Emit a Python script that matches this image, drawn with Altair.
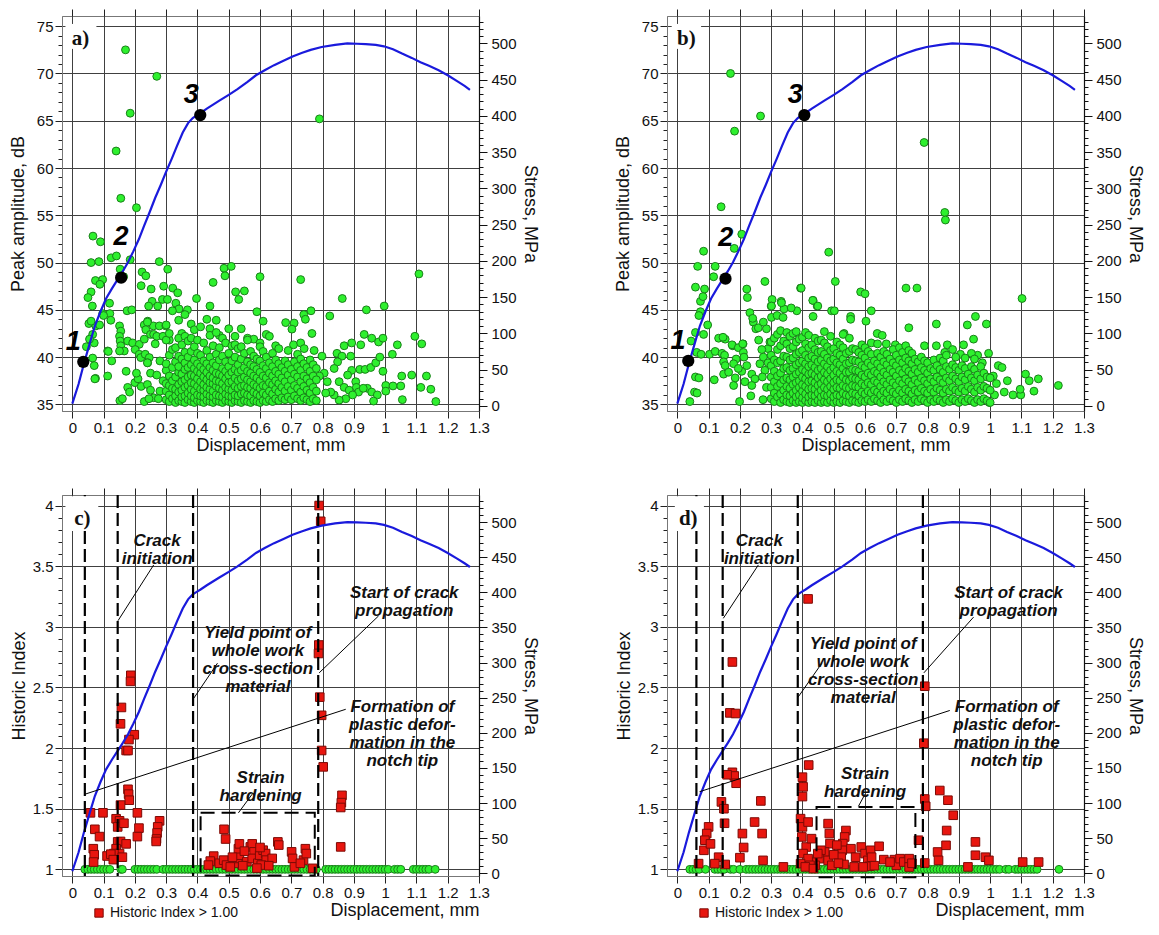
import altair as alt
import pandas as pd

FONT = "Liberation Sans"
GRID = "#404040"
GREEN_FILL = "#2ef02e"
GREEN_STROKE = "#1a801a"
RED_FILL = "#e8160f"
RED_STROKE = "#7d0a05"
BLUE = "#1a1adc"

# ---------------- stress - displacement curve (same test in all panels) ----------------
disp_curve = [0, 0.02, 0.037, 0.055, 0.072, 0.09, 0.108, 0.127, 0.146, 0.162, 0.178, 0.195,
              0.213, 0.23, 0.248, 0.265, 0.283, 0.3, 0.318, 0.335, 0.353, 0.37, 0.385, 0.395,
              0.41, 0.43, 0.47, 0.5, 0.528, 0.56, 0.587, 0.615, 0.645, 0.675, 0.704, 0.735,
              0.762, 0.797, 0.84, 0.879, 0.91, 0.938, 0.97, 0.996, 1.025, 1.054, 1.085, 1.113,
              1.14, 1.171, 1.2, 1.23, 1.255, 1.271]
stress_curve = [3, 30, 58, 85, 110, 130, 148, 162, 175, 186, 198, 213, 230, 249, 268, 287,
                305, 323, 341, 359, 377, 390, 397, 400, 404, 410, 421, 429, 437, 447, 456, 463,
                470, 476, 482, 487, 491, 495, 498, 500, 499.5, 499, 498, 496, 492, 486, 480,
                474, 469, 463, 456, 448, 441, 436]

# ---------------- panel a : peak amplitude (dB) ----------------
a_pts = [(0.17, 72.5), (0.27, 69.7), (0.185, 65.8), (0.79, 65.2), (0.14, 61.8), (0.155, 56.8),
         (0.205, 55.8), (0.066, 52.8), (0.09, 52.2), (0.124, 50.5), (0.141, 50.7), (0.185, 50.3),
         (0.06, 50.0), (0.085, 50.1), (0.074, 48.1), (0.097, 48.2), (0.088, 47.7), (0.153, 49.3),
         (0.164, 48.5), (0.06, 46.9), (0.05, 46.3), (0.064, 45.4), (0.119, 45.7), (0.12, 44.6),
         (0.123, 43.9), (0.097, 44.6), (0.053, 43.55), (0.075, 43.3), (0.07, 41.5), (0.065, 42.4),
         (0.087, 43.4), (0.113, 40.65), (0.126, 39.6), (0.113, 38.0), (0.074, 37.75),
         (0.151, 43.3), (0.155, 42.75), (0.151, 42.2), (0.153, 41.7), (0.155, 41.2), (0.166, 40.65),
         (0.151, 40.65), (0.172, 38.5), (0.177, 36.8), (0.183, 36.3), (0.152, 35.4), (0.16, 35.6),
         (0.177, 41.7), (0.193, 41.5), (0.214, 41.35), (0.201, 40.8), (0.214, 40.3), (0.219, 39.95),
         (0.233, 40.3), (0.246, 39.95), (0.241, 39.4), (0.223, 49.0), (0.235, 48.6), (0.22, 47.55),
         (0.252, 47.2), (0.278, 50.1), (0.305, 49.3), (0.292, 47.5), (0.321, 47.3), (0.337, 46.8),
         (0.288, 46.1), (0.304, 46.1), (0.255, 45.9), (0.273, 45.4), (0.244, 45.4), (0.241, 43.8),
         (0.259, 43.3), (0.278, 43.3), (0.299, 43.3), (0.331, 45.7), (0.341, 45.1), (0.368, 45.0),
         (0.397, 46.2), (0.44, 45.4), (0.45, 47.9), (0.485, 49.4), (0.508, 49.6), (0.488, 48.6),
         (0.522, 46.9), (0.532, 46.1), (0.55, 47.0), (0.045, 41.1), (0.055, 41.9), (0.06, 43.8),
         (0.065, 39.9), (0.07, 39.1), (0.072, 37.7), (0.1, 44.4), (0.115, 40.6), (0.175, 44.9),
         (0.19, 45.0), (0.2, 37.3), (0.21, 37.7), (0.205, 38.3), (0.22, 36.9), (0.23, 43.4),
         (0.24, 43.7), (0.235, 42.9), (0.23, 41.9), (0.25, 42.4), (0.26, 42.4), (0.27, 42.2),
         (0.265, 41.4), (0.24, 39.4), (0.25, 38.3), (0.24, 37.1), (0.25, 36.5), (0.26, 35.7),
         (0.23, 35.3), (0.245, 35.6), (0.27, 38.1), (0.28, 39.6), (0.29, 42.2), (0.3, 43.4),
         (0.31, 41.8), (0.32, 44.9), (0.34, 43.9), (0.35, 42.5), (0.29, 37.5), (0.28, 36.4),
         (0.275, 35.6), (0.36, 44.5), (0.38, 43.5), (0.39, 42.9), (0.41, 43.2), (0.43, 44.0),
         (0.44, 43.0), (0.46, 43.9), (0.47, 42.3), (0.5, 43.0), (0.52, 42.2), (0.54, 43.0),
         (0.56, 42.0), (0.58, 41.9), (0.6, 41.5), (0.62, 42.4), (0.59, 44.8), (0.6, 48.5),
         (0.61, 43.8), (0.63, 42.2), (0.65, 41.2), (0.73, 48.2), (0.74, 44.5), (0.745, 44.0),
         (0.763, 44.9), (0.823, 44.35), (0.863, 46.2), (0.94, 45.0), (0.997, 45.4), (1.108, 48.8),
         (0.682, 43.65), (0.709, 43.6), (0.702, 42.96), (0.766, 42.5), (0.933, 42.4), (0.957, 42.0),
         (0.979, 41.6), (0.993, 42.0), (1.095, 42.2), (1.117, 41.4), (0.707, 41.3), (0.73, 41.5),
         (0.741, 40.9), (0.773, 40.7), (0.798, 40.1), (0.869, 41.2), (0.893, 41.5), (0.922, 41.3),
         (0.846, 40.4), (0.862, 40.1), (0.848, 39.5), (0.837, 38.8), (0.89, 40.1), (0.893, 38.6),
         (0.88, 38.1), (0.919, 38.7), (0.936, 38.7), (0.954, 38.9), (0.97, 39.4), (0.983, 40.0),
         (1.039, 41.3), (1.023, 40.3), (0.993, 38.5), (1.053, 38.0), (1.085, 38.1), (1.132, 38.0),
         (1.002, 37.0), (1.025, 36.95), (1.05, 36.95), (1.114, 36.8), (1.146, 36.6), (1.055, 35.5),
         (1.162, 35.3), (0.943, 36.7), (0.957, 36.3), (0.975, 36.0), (0.963, 35.35), (1.002, 36.4),
         (0.906, 37.4), (0.908, 36.8), (0.915, 36.3), (0.93, 36.7), (0.853, 37.4), (0.869, 36.8),
         (0.885, 36.5), (0.896, 36.0), (0.874, 35.6), (0.853, 35.45), (0.837, 36.0), (0.826, 36.3),
         (0.815, 37.4), (0.805, 38.3), (0.79, 38.0), (0.81, 36.2)]

a_cols = {
    0.300: [35.5, 36.4, 37.2, 38.6, 39.3, 41.8],
    0.310: [35.3, 36.0, 37.0, 38.0, 40.2, 42.5],
    0.320: [35.6, 36.7, 37.5, 38.9, 40.8],
    0.330: [35.2, 35.9, 36.6, 37.9, 39.5, 41.0],
    0.340: [35.4, 36.3, 37.1, 38.4, 39.0, 40.1, 42.0],
    0.350: [35.3, 35.8, 36.5, 37.4, 38.2, 39.8, 41.3],
    0.360: [35.2, 35.9, 36.8, 37.6, 38.7, 39.4, 40.5, 42.2],
    0.370: [35.5, 36.2, 37.0, 37.9, 38.9, 40.0, 41.7],
    0.380: [35.3, 35.9, 36.6, 37.3, 38.1, 39.2, 40.6, 42.0],
    0.390: [35.2, 35.7, 36.4, 37.2, 38.0, 38.8, 39.7, 41.1],
    0.400: [35.4, 36.0, 36.9, 37.7, 38.5, 39.3, 40.4, 41.8],
    0.410: [35.3, 35.9, 36.6, 37.4, 38.3, 39.0, 40.2],
    0.420: [35.2, 35.8, 36.5, 37.1, 37.9, 38.7, 39.6, 41.5],
    0.430: [35.4, 36.1, 36.8, 37.6, 38.4, 39.3, 40.7],
    0.440: [35.3, 35.9, 36.6, 37.3, 38.0, 38.9, 40.0, 42.3],
    0.450: [35.2, 35.8, 36.4, 37.2, 37.8, 38.6, 39.4, 41.2],
    0.460: [35.4, 36.0, 36.9, 37.5, 38.3, 39.1, 40.3, 42.6],
    0.470: [35.3, 35.9, 36.7, 37.4, 38.2, 39.7, 41.0],
    0.480: [35.2, 35.8, 36.5, 37.2, 38.0, 38.8, 40.1, 42.0],
    0.490: [35.4, 36.1, 36.8, 37.7, 38.5, 39.5, 41.5],
    0.500: [35.3, 35.9, 36.6, 37.3, 38.1, 39.0, 40.4],
    0.510: [35.2, 35.8, 36.5, 37.4, 38.4, 39.6, 41.2],
    0.520: [35.4, 36.0, 36.9, 37.8, 38.7, 40.0, 41.3],
    0.530: [35.3, 35.9, 36.7, 37.5, 38.4, 39.2, 40.9],
    0.540: [35.2, 36.1, 36.9, 37.7, 38.6, 39.8, 41.1],
    0.550: [35.4, 36.2, 37.0, 37.9, 38.9, 40.4],
    0.560: [35.3, 36.0, 36.8, 37.6, 38.5, 39.5, 41.8],
    0.570: [35.2, 35.9, 36.7, 37.4, 38.3, 39.2, 40.6],
    0.580: [35.4, 36.3, 37.1, 38.0, 39.0, 40.1],
    0.590: [35.3, 36.1, 36.9, 37.8, 38.7, 39.8],
    0.600: [35.2, 35.9, 36.7, 37.5, 38.4, 39.6, 41.1],
    0.610: [35.4, 36.2, 37.0, 38.0, 39.1, 40.6],
    0.620: [35.3, 36.0, 36.9, 37.8, 38.8, 40.0],
    0.630: [35.5, 36.4, 37.3, 38.3, 39.4],
    0.640: [35.3, 36.1, 37.1, 38.0, 39.0, 40.4],
    0.650: [35.6, 36.6, 37.5, 38.5, 39.7],
    0.660: [35.4, 36.3, 37.2, 38.2, 39.3, 40.9],
    0.670: [35.7, 36.8, 37.8, 38.9],
    0.680: [35.5, 36.4, 37.4, 38.5, 39.6],
    0.690: [35.8, 36.9, 38.1, 39.2, 40.7],
    0.700: [35.5, 36.5, 37.6, 38.7],
    0.710: [35.9, 37.0, 38.2, 39.5],
    0.720: [35.6, 36.7, 37.9, 39.0, 40.3],
    0.730: [35.4, 36.3, 37.4, 38.6, 39.8],
    0.740: [35.7, 36.9, 38.0, 39.3],
    0.750: [35.5, 36.5, 37.7, 38.9],
    0.760: [35.3, 36.2, 37.3, 38.5, 39.7],
    0.770: [35.6, 36.8, 38.0, 39.2],
    0.780: [35.4, 36.4, 37.6, 38.8],
}

# ---------------- panel b : peak amplitude (dB) ----------------
b_pts = [(0.17, 70.0), (0.266, 65.5), (0.183, 63.9), (0.789, 62.7), (0.14, 55.9), (0.855, 55.3),
         (0.857, 54.5), (0.206, 53.0), (0.182, 51.5), (0.084, 51.2), (0.484, 51.1), (0.065, 49.6),
         (0.121, 49.6), (0.116, 48.5), (0.28, 48.0), (0.505, 48.0), (0.058, 47.4), (0.087, 47.2),
         (0.222, 47.2), (0.394, 47.3), (0.731, 47.3), (0.766, 47.3), (1.102, 46.2), (0.224, 46.3),
         (0.586, 46.9), (0.6, 46.7), (0.074, 45.9), (0.082, 46.4), (0.303, 46.1), (0.332, 45.9),
         (0.434, 46.0), (0.447, 45.4), (0.3, 45.4), (0.341, 45.1), (0.382, 44.9), (0.493, 44.9),
         (0.62, 44.9), (0.074, 44.8), (0.069, 44.4), (0.232, 44.7), (0.243, 43.7), (0.241, 44.1),
         (0.251, 43.0), (0.259, 43.1), (0.434, 44.3), (0.554, 44.3), (0.953, 44.3), (0.554, 44.0),
         (0.097, 43.4), (0.603, 43.8), (0.927, 43.4), (0.988, 43.5), (0.828, 43.5), (0.74, 43.1),
         (0.084, 42.4), (0.058, 42.6), (0.044, 41.7), (0.132, 42.0), (0.153, 41.9), (0.146, 42.1),
         (0.177, 41.2), (0.947, 41.9), (0.639, 42.5), (0.655, 42.3), (0.533, 42.5), (0.175, 41.3),
         (0.21, 41.4), (0.668, 41.4), (0.697, 41.3), (0.79, 41.2), (0.828, 41.2), (0.863, 41.3),
         (0.915, 41.3), (0.103, 40.3), (0.121, 40.6), (0.143, 40.4), (0.151, 40.2), (0.148, 39.5),
         (0.062, 40.5), (0.076, 40.3), (0.995, 40.4), (0.195, 41.0), (0.211, 40.5), (0.209, 41.4),
         (0.213, 40.0), (0.188, 39.8), (0.058, 37.9), (0.069, 37.8), (0.055, 36.3), (0.063, 36.2),
         (0.04, 35.3), (0.18, 37.0), (0.118, 37.6), (0.148, 38.2), (0.185, 37.8), (0.206, 38.5),
         (0.216, 37.4), (0.199, 35.3), (0.153, 39.1), (0.164, 38.4), (0.18, 39.3), (0.195, 38.8),
         (0.222, 39.1), (0.238, 38.2), (0.248, 37.7), (0.238, 37.0), (0.235, 35.9), (0.274, 35.5),
         (0.264, 39.3), (0.275, 40.0), (0.29, 40.9), (0.296, 41.6), (0.285, 43.0), (0.275, 43.7),
         (0.301, 44.2), (0.319, 44.4), (0.301, 45.4), (0.333, 45.75), (0.364, 45.2), (0.396, 47.3),
         (0.433, 46.0), (0.449, 45.4), (0.502, 44.9), (0.338, 44.2), (0.26, 41.8), (0.27, 40.8),
         (0.28, 38.6), (0.29, 39.4), (0.285, 36.8), (0.272, 37.9), (1.026, 39.1), (1.038, 38.9),
         (1.055, 37.5), (1.073, 36.0), (1.098, 36.0), (1.096, 36.6), (1.113, 38.2), (1.125, 37.5),
         (1.14, 36.4), (1.154, 37.7), (1.218, 37.0), (0.997, 35.2), (1.014, 36.0), (1.02, 37.2),
         (1.045, 36.3), (1.01, 38.0), (0.96, 40.2), (0.975, 39.4), (0.94, 40.4), (0.88, 40.8),
         (0.855, 40.5), (0.905, 40.3)]

b_cols = {
    0.30: [35.6, 36.8, 37.9, 39.1, 40.2, 41.6],
    0.31: [35.3, 36.2, 37.4, 38.5, 39.7, 42.0],
    0.32: [35.8, 36.9, 38.0, 39.4, 40.8, 42.4],
    0.33: [35.2, 36.1, 37.2, 38.3, 39.6, 41.2, 42.8],
    0.34: [35.5, 36.5, 37.6, 38.8, 40.1, 41.7],
    0.35: [35.3, 36.0, 36.9, 37.8, 38.9, 40.0, 41.4, 42.6],
    0.36: [35.2, 35.9, 36.7, 37.6, 38.6, 39.7, 40.9, 42.2],
    0.37: [35.4, 36.2, 37.1, 37.9, 38.8, 39.9, 41.1, 42.5],
    0.38: [35.2, 35.8, 36.5, 37.3, 38.2, 39.2, 40.3, 41.6, 42.7],
    0.39: [35.3, 36.0, 36.8, 37.5, 38.4, 39.4, 40.5, 41.9],
    0.40: [35.2, 35.7, 36.4, 37.1, 37.9, 38.7, 39.6, 40.7, 42.1],
    0.41: [35.4, 36.1, 36.9, 37.7, 38.5, 39.3, 40.2, 41.4, 42.6],
    0.42: [35.2, 35.8, 36.6, 37.4, 38.2, 39.0, 39.9, 41.0, 42.3],
    0.43: [35.3, 36.0, 36.7, 37.5, 38.3, 39.2, 40.1, 41.3],
    0.44: [35.2, 35.9, 36.6, 37.3, 38.1, 38.9, 39.8, 40.8, 42.0],
    0.45: [35.4, 36.2, 37.0, 37.8, 38.6, 39.5, 40.5, 41.7],
    0.46: [35.2, 35.8, 36.5, 37.2, 38.0, 38.8, 39.7, 40.6, 41.8],
    0.47: [35.3, 36.0, 36.8, 37.6, 38.4, 39.3, 40.3, 41.5, 42.7],
    0.48: [35.2, 35.9, 36.6, 37.4, 38.2, 39.0, 39.9, 41.1],
    0.49: [35.4, 36.1, 36.9, 37.7, 38.6, 39.6, 40.7, 42.2],
    0.50: [35.2, 35.8, 36.6, 37.3, 38.1, 38.9, 39.8, 40.9],
    0.51: [35.3, 36.0, 36.8, 37.6, 38.5, 39.4, 40.4, 41.6],
    0.52: [35.2, 35.9, 36.7, 37.5, 38.3, 39.2, 40.2, 41.3],
    0.53: [35.4, 36.2, 37.0, 37.9, 38.8, 39.8, 41.0, 42.4],
    0.54: [35.3, 36.0, 36.8, 37.6, 38.4, 39.3, 40.4],
    0.55: [35.2, 35.9, 36.7, 37.5, 38.4, 39.4, 40.6, 42.0],
    0.56: [35.4, 36.2, 37.0, 37.8, 38.7, 39.7, 40.9],
    0.57: [35.3, 36.1, 36.9, 37.7, 38.6, 39.6, 40.8],
    0.58: [35.2, 35.9, 36.8, 37.6, 38.5, 39.5, 40.5],
    0.59: [35.4, 36.3, 37.2, 38.1, 39.1, 40.2, 41.3],
    0.60: [35.3, 36.1, 37.0, 37.9, 38.9, 39.9, 41.0],
    0.61: [35.5, 36.4, 37.3, 38.3, 39.4, 40.6],
    0.62: [35.3, 36.2, 37.1, 38.1, 39.1, 40.3, 41.5],
    0.63: [35.6, 36.5, 37.5, 38.5, 39.6],
    0.64: [35.4, 36.3, 37.3, 38.3, 39.3, 40.4, 41.4],
    0.65: [35.2, 36.0, 36.9, 37.9, 38.9, 40.0],
    0.66: [35.5, 36.4, 37.4, 38.4, 39.5, 40.6],
    0.67: [35.3, 36.2, 37.1, 38.1, 39.2, 40.3],
    0.68: [35.6, 36.6, 37.6, 38.7, 39.8],
    0.69: [35.4, 36.3, 37.3, 38.4, 39.4, 40.8],
    0.70: [35.2, 36.1, 37.0, 38.0, 39.1, 40.2],
    0.71: [35.5, 36.5, 37.5, 38.6, 39.7, 41.0],
    0.72: [35.3, 36.2, 37.2, 38.3, 39.4, 40.5],
    0.73: [35.6, 36.6, 37.7, 38.8, 39.9, 41.2],
    0.74: [35.4, 36.4, 37.4, 38.5, 39.6, 40.7],
    0.75: [35.2, 36.1, 37.1, 38.2, 39.3, 40.4],
    0.76: [35.5, 36.5, 37.6, 38.7, 39.8],
    0.77: [35.3, 36.3, 37.3, 38.4, 39.5],
    0.78: [35.6, 36.7, 37.8, 38.9, 40.0],
    0.79: [35.4, 36.4, 37.5, 38.6, 39.6],
    0.80: [35.2, 36.2, 37.2, 38.3, 39.4],
    0.81: [35.5, 36.6, 37.7, 38.8],
    0.82: [35.3, 36.3, 37.4, 38.6, 39.7],
    0.83: [35.6, 36.7, 37.9, 39.1],
    0.84: [35.4, 36.5, 37.6, 38.7, 39.9],
    0.85: [35.2, 36.2, 37.3, 38.4, 39.6],
    0.86: [35.5, 36.6, 37.8, 39.0, 40.2],
    0.87: [35.3, 36.4, 37.5, 38.7],
    0.88: [35.6, 36.8, 38.0, 39.2],
    0.89: [35.4, 36.5, 37.7, 38.9, 40.0],
    0.90: [35.2, 36.3, 37.4, 38.6],
    0.91: [35.5, 36.7, 37.9, 39.1],
    0.92: [35.3, 36.4, 37.6, 38.8, 39.9],
    0.93: [35.6, 36.9, 38.2],
    0.94: [35.4, 36.6, 37.8, 39.0],
    0.95: [35.2, 36.3, 37.5, 38.7, 39.8],
    0.96: [35.5, 36.8, 38.1],
    0.97: [35.3, 36.5, 37.7, 39.0],
    0.98: [35.6, 36.9, 38.3],
    0.99: [35.4, 36.7, 37.9],
    1.00: [35.2, 36.5, 37.8],
}

# ---------------- panel c : historic index ----------------
c_green_x = [0.04, 0.05, 0.06, 0.07, 0.08, 0.09, 0.1, 0.11, 0.12, 0.155, 0.16, 0.2, 0.21, 0.22,
             0.23, 0.24, 0.25, 0.26, 0.27, 0.29, 0.3, 0.31, 0.32, 0.33, 0.34, 0.35, 0.36, 0.37,
             0.38, 0.39, 0.4, 0.41, 0.42, 0.43, 0.44, 0.45, 0.46, 0.47, 0.48, 0.49, 0.5, 0.51,
             0.52, 0.53, 0.54, 0.55, 0.56, 0.57, 0.58, 0.59, 0.6, 0.61, 0.62, 0.63, 0.64, 0.65,
             0.66, 0.67, 0.68, 0.69, 0.7, 0.71, 0.72, 0.73, 0.74, 0.75, 0.76, 0.77, 0.78, 0.81,
             0.82, 0.83, 0.84, 0.85, 0.86, 0.87, 0.88, 0.89, 0.9, 0.91, 0.92, 0.93, 0.94, 0.95,
             0.96, 0.97, 0.98, 0.99, 1.0, 1.01, 1.03, 1.04, 1.05, 1.09, 1.1, 1.11, 1.12, 1.13,
             1.14, 1.16]
c_red = [(0.789, 4.0), (0.794, 3.87), (0.788, 2.85), (0.787, 2.78), (0.791, 2.42), (0.797, 2.27),
         (0.797, 1.98), (0.802, 1.845), (0.862, 1.61), (0.86, 1.55), (0.858, 1.51), (0.858, 1.185),
         (0.187, 2.60), (0.186, 2.55), (0.157, 2.335), (0.154, 2.20), (0.198, 2.11), (0.181, 2.07),
         (0.172, 1.98), (0.178, 1.98), (0.178, 1.66), (0.18, 1.62), (0.182, 1.57), (0.154, 1.53),
         (0.058, 1.466), (0.098, 1.466), (0.14, 1.417), (0.151, 1.40), (0.145, 1.35), (0.208, 1.466),
         (0.213, 1.34), (0.208, 1.27), (0.072, 1.33), (0.087, 1.27), (0.279, 1.40), (0.273, 1.35),
         (0.271, 1.30), (0.269, 1.25), (0.268, 1.23), (0.145, 1.226), (0.154, 1.23), (0.172, 1.21),
         (0.14, 1.17), (0.151, 1.13), (0.133, 1.13), (0.067, 1.17), (0.07, 1.12), (0.068, 1.06),
         (0.111, 1.11), (0.123, 1.125), (0.131, 1.08), (0.165, 1.38), (0.16, 1.1), (0.485, 1.33),
         (0.49, 1.25), (0.452, 1.109), (0.441, 1.068), (0.435, 1.035), (0.47, 1.05), (0.484, 1.076),
         (0.493, 1.035), (0.517, 1.049), (0.528, 1.09), (0.534, 1.117), (0.531, 1.17),
         (0.534, 1.21), (0.558, 1.063), (0.569, 1.185), (0.575, 1.21), (0.581, 1.144), (0.575, 1.09),
         (0.593, 1.05), (0.599, 1.117), (0.61, 1.158), (0.618, 1.13), (0.62, 1.076), (0.604, 1.035),
         (0.639, 1.09), (0.657, 1.226), (0.66, 1.2), (0.701, 1.144), (0.704, 1.09), (0.71, 1.02),
         (0.739, 1.076), (0.745, 1.17), (0.748, 1.13), (0.729, 1.05), (0.768, 1.008), (0.628, 1.03),
         (0.505, 1.02), (0.545, 1.03), (0.59, 1.01), (0.55, 1.15), (0.6, 1.18), (0.512, 1.1)]

# ---------------- panel d : historic index ----------------
d_green_x = [0.04, 0.05, 0.06, 0.07, 0.09, 0.12, 0.13, 0.14, 0.15, 0.17, 0.18, 0.2, 0.22, 0.23,
             0.24, 0.25, 0.26, 0.27, 0.28, 0.29, 0.3, 0.31, 0.32, 0.33, 0.34, 0.35, 0.36, 0.37,
             0.38, 0.39, 0.4, 0.41, 0.42, 0.43, 0.44, 0.45, 0.46, 0.47, 0.48, 0.49, 0.5, 0.51,
             0.52, 0.53, 0.54, 0.55, 0.56, 0.57, 0.58, 0.59, 0.6, 0.61, 0.62, 0.63, 0.64, 0.65,
             0.66, 0.67, 0.68, 0.69, 0.7, 0.71, 0.72, 0.73, 0.74, 0.75, 0.76, 0.77, 0.78, 0.79,
             0.8, 0.81, 0.82, 0.83, 0.84, 0.85, 0.86, 0.87, 0.88, 0.89, 0.9, 0.91, 0.92, 0.93,
             0.94, 0.95, 0.96, 0.97, 0.98, 0.99, 1.0, 1.01, 1.02, 1.03, 1.05, 1.06, 1.08, 1.09,
             1.1, 1.11, 1.12, 1.13, 1.14, 1.15, 1.22]
d_red = [(0.418, 3.23), (0.176, 2.71), (0.168, 2.29), (0.186, 2.285), (0.791, 2.51), (0.788, 2.04),
         (0.42, 1.86), (0.176, 1.80), (0.182, 1.77), (0.188, 1.71), (0.159, 1.78), (0.4, 1.76),
         (0.402, 1.68), (0.4, 1.60), (0.791, 1.58), (0.794, 1.52), (0.839, 1.65), (0.865, 1.57),
         (0.882, 1.446), (0.267, 1.564), (0.141, 1.556), (0.149, 1.50), (0.151, 1.38), (0.247, 1.39),
         (0.208, 1.295), (0.212, 1.18), (0.2, 1.096), (0.271, 1.295), (0.274, 1.074), (0.1, 1.35),
         (0.094, 1.295), (0.088, 1.24), (0.085, 1.157), (0.106, 1.21), (0.132, 1.10), (0.12, 1.047),
         (0.068, 1.047), (0.153, 1.04), (0.339, 1.02), (0.482, 1.377), (0.486, 1.295), (0.488, 1.212),
         (0.471, 1.143), (0.482, 1.074), (0.494, 1.033), (0.539, 1.32), (0.535, 1.267), (0.529, 1.212),
         (0.527, 1.157), (0.524, 1.10), (0.533, 1.04), (0.459, 1.157), (0.453, 1.088), (0.441, 1.033),
         (0.429, 1.06), (0.555, 1.17), (0.565, 1.02), (0.588, 1.184), (0.6, 1.13), (0.609, 1.074),
         (0.618, 1.157), (0.621, 1.10), (0.645, 1.19), (0.614, 1.025), (0.594, 1.02), (0.694, 1.08),
         (0.7, 1.033), (0.712, 1.088), (0.724, 1.06), (0.741, 1.088), (0.741, 1.019), (0.771, 1.24),
         (0.832, 1.143), (0.835, 1.074), (0.859, 1.198), (0.861, 1.32), (0.953, 1.226), (0.953, 1.116),
         (0.985, 1.10), (0.996, 1.074), (0.929, 1.02), (1.104, 1.06), (1.155, 1.06), (0.791, 1.052),
         (0.394, 1.418), (0.4, 1.35), (0.398, 1.267), (0.412, 1.184), (0.402, 1.13), (0.418, 1.088),
         (0.424, 1.033), (0.394, 1.047), (0.409, 1.02), (0.435, 1.006), (0.449, 1.13), (0.429, 1.253),
         (0.418, 1.39), (0.51, 1.2), (0.5, 1.12), (0.515, 1.05), (0.57, 1.1), (0.66, 1.08),
         (0.68, 1.06), (0.63, 1.03), (0.75, 1.05)]

# ---------------- annotations ----------------
key_labels = ["1", "2", "3"]
a_key_x, a_key_y = [0.035, 0.156, 0.409], [39.5, 48.4, 65.6]
a_num_x, a_num_y = [0.003, 0.156, 0.38], [41.6, 52.7, 67.7]
b_key_x, b_key_y = [0.035, 0.154, 0.406], [39.6, 48.3, 65.6]
b_num_x, b_num_y = [0.002, 0.155, 0.377], [41.7, 52.6, 67.7]

ann_texts = ["Crack\ninitiation",
             "Yield point of\nwhole work\ncross-section\nmaterial",
             "Start of crack\npropagation",
             "Formation of\nplastic defor-\nmation in the\nnotch tip",
             "Strain\nhardening"]
c_ann_x, c_ann_y = [0.271, 0.593, 1.061, 1.055, 0.602], [3.71, 2.945, 3.28, 2.335, 1.751]
d_ann_x, d_ann_y = [0.262, 0.594, 1.059, 1.053, 0.6], [3.71, 2.86, 3.275, 2.335, 1.79]
c_leaders = [(0.26, 3.51, 0.146, 3.05), (0.464, 2.70, 0.388, 2.41), (0.979, 3.09, 0.789, 2.62),
             (0.874, 2.32, 0.041, 1.62), (0.575, 1.62, 0.531, 1.466)]
d_leaders = [(0.259, 3.51, 0.147, 3.07), (0.462, 2.70, 0.386, 2.42), (0.947, 3.08, 0.788, 2.62),
             (0.871, 2.31, 0.071, 1.64), (0.6, 1.62, 0.579, 1.52)]
c_vlines = [0.04, 0.145, 0.386, 0.786]
d_vlines = [0.061, 0.145, 0.385, 0.785]
c_hard_box = [0.41, 0.775, 0.95, 1.466]
d_hard_box = [0.445, 0.761, 0.935, 1.515]

panel_letters = ["a)", "b)", "c)", "d)"]
letter_x = [0.026, 0.029, 0.032, 0.035]
letter_y = [73.7, 73.7, 3.89, 3.89]
letter_box = [(-0.022, 0.077, 72.6, 75.24), (-0.018, 0.076, 72.6, 75.24),
              (-0.022, 0.083, 3.79, 4.076), (-0.008, 0.085, 3.79, 4.076)]

LEGEND_LABEL = "Historic Index > 1.00"

# ---------------- scales / axes ----------------
X_DOM = [-0.033, 1.3]
X_TICKS = [round(0.1 * i, 1) for i in range(14)]
DB_TICKS = list(range(35, 76))
HI_TICKS = [round(1 + 0.1 * i, 2) for i in range(31)]
S_TICKS = list(range(0, 531, 10))
DB_DOM = [34.3, 76.08]
HI_DOM = [0.945, 4.087]
S_DOM_AB = [-7.24, 537.8]
S_DOM_CD = [-3.8, 538.5]
W = 417
H_AB = 395
H_CD = 381
NUMFMT = "~r"


def xs(field, axis=None):
    return alt.X(f"{field}:Q", scale=alt.Scale(domain=X_DOM, nice=False, zero=False), axis=axis)


def ys(field, dom, axis=None):
    return alt.Y(f"{field}:Q", scale=alt.Scale(domain=dom, nice=False, zero=False), axis=axis)


def bottom_axis(anchor):
    return alt.Axis(title="Displacement, mm", orient="bottom", values=X_TICKS, format=NUMFMT,
                    grid=True, gridColor=GRID, gridWidth=1, tickSize=7, tickColor="#222",
                    domainColor="#777", labelPadding=2, titlePadding=1, titleAnchor=anchor,
                    labelFlush=False, labelOverlap=False)


def top_axis():
    return alt.Axis(orient="top", values=X_TICKS, labels=False, title=None, tickSize=7,
                    tickColor="#222", domain=False, grid=False)


def left_axis(title, ticks, test, tpad):
    return alt.Axis(title=title, orient="left", values=ticks, format=NUMFMT,
                    labelExpr=f"({test}) ? datum.label : ''", labelOverlap=False,
                    tickSize=7, tickColor="#222",
                    tickDash={"condition": {"test": test, "value": []}, "value": [4, 20]},
                    grid=True, gridColor=GRID, gridWidth=1,
                    gridOpacity={"condition": {"test": test, "value": 1}, "value": 0},
                    domainColor="#777", labelPadding=2, titlePadding=tpad)


def right_axis():
    test = "datum.value % 50 === 0"
    return alt.Axis(title="Stress, MPa", orient="right", values=S_TICKS, format=NUMFMT,
                    labelExpr=f"({test}) ? datum.label : ''", labelOverlap=False,
                    tickSize=8, tickColor="#111",
                    tickDash={"condition": {"test": test, "value": []}, "value": [4, 20]},
                    grid=False, domainColor="#111", domainWidth=1.2, labelPadding=4,
                    titlePadding=4)


curve_df = pd.DataFrame({"d": disp_curve, "s": stress_curve})


def stress_layer(sdom):
    return alt.Chart(curve_df).mark_line(color=BLUE, strokeWidth=2.2).encode(
        x=xs("d", top_axis()), y=ys("s", sdom, right_axis()))


def letter_layers(i, ydom):
    bx = letter_box[i]
    box_df = pd.DataFrame({"x": [bx[0]], "x2": [bx[1]], "y": [bx[2]], "y2": [bx[3]]})
    lab_df = pd.DataFrame({"x": [letter_x[i]], "y": [letter_y[i]], "t": [panel_letters[i]]})
    box = alt.Chart(box_df).mark_rect(fill="white", strokeOpacity=0).encode(
        x=xs("x"), x2="x2:Q", y=ys("y", ydom), y2="y2:Q")
    lab = alt.Chart(lab_df).mark_text(font="Liberation Serif", fontWeight="bold", fontSize=21,
                                      color="#111", align="center", baseline="middle").encode(
        x=xs("x"), y=ys("y", ydom), text="t:N")
    return box, lab


def amp_panel(i, pts, cols, kx, ky, nx, ny):
    px = [p[0] for p in pts] + [x for x, v in cols.items() for _ in v]
    py = [p[1] for p in pts] + [y for v in cols.values() for y in v]
    sc_df = pd.DataFrame({"x": px, "y": py})
    scatter = alt.Chart(sc_df).mark_circle(size=62, fill=GREEN_FILL, stroke=GREEN_STROKE,
                                           strokeWidth=1, opacity=1).encode(
        x=xs("x", bottom_axis("middle")),
        y=ys("y", DB_DOM, left_axis("Peak amplitude, dB", DB_TICKS,
                                   "datum.value % 5 === 0", 9)))
    box, lab = letter_layers(i, DB_DOM)
    key_df = pd.DataFrame({"x": kx, "y": ky})
    num_df = pd.DataFrame({"x": nx, "y": ny, "t": key_labels})
    dots = alt.Chart(key_df).mark_circle(size=150, color="black", opacity=1).encode(
        x=xs("x"), y=ys("y", DB_DOM))
    nums = alt.Chart(num_df).mark_text(font=FONT, fontSize=27, fontWeight="bold",
                                       fontStyle="italic", color="black",
                                       align="center", baseline="middle").encode(
        x=xs("x"), y=ys("y", DB_DOM), text="t:N")
    g2 = alt.layer(box, lab, dots, nums)
    return alt.layer(scatter, stress_layer(S_DOM_AB), g2).resolve_scale(
        y="independent").resolve_axis(x="independent", y="independent").properties(
        width=W, height=H_AB)


def hi_panel(i, green_x, red, vlines, hbox, leaders, ax, ay):
    baxis = bottom_axis("end")
    laxis = left_axis("Historic Index", HI_TICKS,
                      "datum.value * 2 === round(datum.value * 2)", 4)
    g_df = pd.DataFrame({"x": green_x, "y": [1.0] * len(green_x)})
    r_df = pd.DataFrame({"x": [p[0] for p in red], "y": [p[1] for p in red],
                         "lab": [LEGEND_LABEL] * len(red)})
    green = alt.Chart(g_df).mark_circle(size=62, fill=GREEN_FILL, stroke=GREEN_STROKE,
                                        strokeWidth=1, opacity=1).encode(
        x=xs("x", baxis), y=ys("y", HI_DOM, laxis))
    reds = alt.Chart(r_df).mark_square(size=74, stroke=RED_STROKE, strokeWidth=1,
                                       opacity=1).encode(
        x=xs("x", baxis), y=ys("y", HI_DOM, laxis),
        color=alt.Color("lab:N", scale=alt.Scale(domain=[LEGEND_LABEL], range=[RED_FILL]),
                        legend=alt.Legend(title=None, orient="none", legendX=30,
                                          legendY=H_CD + 30, symbolType="square",
                                          symbolSize=70, symbolStrokeColor=RED_STROKE,
                                          symbolStrokeWidth=1, labelFont=FONT,
                                          labelFontSize=14, labelColor="#111",
                                          padding=0)))
    g1 = alt.layer(green, reds)

    box, lab = letter_layers(i, HI_DOM)
    vl_df = pd.DataFrame({"x": vlines})
    vl = alt.Chart(vl_df).mark_rule(color="black", strokeWidth=2.2,
                                    strokeDash=[13, 5]).encode(x=xs("x"))
    hb_df = pd.DataFrame({"x": [hbox[0]], "x2": [hbox[1]], "y": [hbox[2]], "y2": [hbox[3]]})
    hb = alt.Chart(hb_df).mark_rect(fill="white", fillOpacity=0, stroke="black",
                                    strokeWidth=2, strokeDash=[14, 7]).encode(
        x=xs("x"), x2="x2:Q", y=ys("y", HI_DOM), y2="y2:Q")
    ld_df = pd.DataFrame({"x": [l[0] for l in leaders], "y": [l[1] for l in leaders],
                          "x2": [l[2] for l in leaders], "y2": [l[3] for l in leaders]})
    ld = alt.Chart(ld_df).mark_rule(color="black", strokeWidth=1).encode(
        x=xs("x"), y=ys("y", HI_DOM), x2="x2:Q", y2="y2:Q")
    an_df = pd.DataFrame({"x": ax, "y": ay, "t": ann_texts})
    an = alt.Chart(an_df).mark_text(font=FONT, fontSize=17, fontWeight="bold",
                                    fontStyle="italic", color="#111", align="center",
                                    baseline="middle", lineBreak="\n", lineHeight=18).encode(
        x=xs("x"), y=ys("y", HI_DOM), text="t:N")
    # dashed guide lines first, so the white letter box hides them behind "c)"/"d)"
    g2 = alt.layer(vl, box, hb, ld, an, lab)
    return alt.layer(g1, stress_layer(S_DOM_CD), g2).resolve_scale(
        y="independent").resolve_axis(x="independent", y="independent").properties(
        width=W, height=H_CD)


pa = amp_panel(0, a_pts, a_cols, a_key_x, a_key_y, a_num_x, a_num_y)
pb = amp_panel(1, b_pts, b_cols, b_key_x, b_key_y, b_num_x, b_num_y)
pc = hi_panel(2, c_green_x, c_red, c_vlines, c_hard_box, c_leaders, c_ann_x, c_ann_y)
pd_ = hi_panel(3, d_green_x, d_red, d_vlines, d_hard_box, d_leaders, d_ann_x, d_ann_y)

chart = alt.concat(pa, pb, pc, pd_, columns=2, spacing={"row": 84, "column": 188},
                   bounds="flush").resolve_scale(color="independent").resolve_legend(
    color="independent").properties(
    padding={"left": 0, "top": 0, "right": 5, "bottom": 4}).configure_view(
    stroke="#777", strokeWidth=1).configure_axis(
    labelFont=FONT, titleFont=FONT, labelFontSize=15, titleFontSize=18,
    titleFontWeight="normal", labelColor="#111", titleColor="#111")

chart.save("out.html", embed_options={"renderer": "svg", "actions": False})
